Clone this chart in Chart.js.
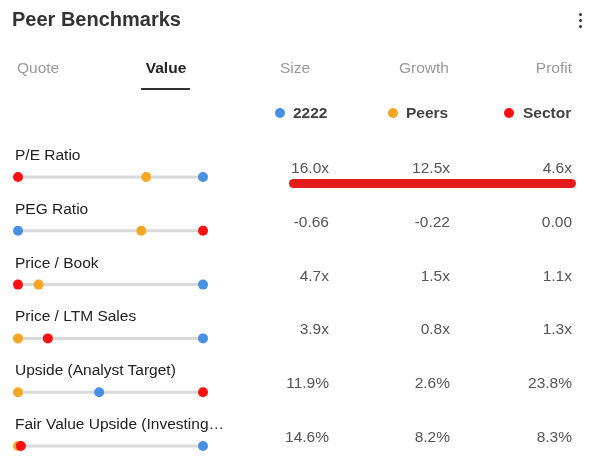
<!DOCTYPE html>
<html>
<head>
<meta charset="utf-8">
<script src="https://cdn.jsdelivr.net/npm/chart.js@4"></script>
<style>
  body { margin: 0; background: #fff; font-family: "Liberation Sans", Arial, sans-serif; }
  #wrap { position: relative; width: 605px; height: 465px; overflow: hidden; }
  #chartBox { position: absolute; left: 0; top: 0; width: 605px; height: 465px; }
  .t { position: absolute; white-space: nowrap; line-height: 18px; }
  .title { left: 12px; top: 8px; font-size: 20px; font-weight: bold; color: #333; line-height: 22px; }
  .tab { top: 59px; font-size: 15.5px; color: #999; }
  .tab.on { color: #222; font-weight: bold; }
  .lbl { left: 15px; font-size: 15.5px; color: #222; }
  .val { font-size: 15.5px; color: #555; text-align: right; width: 80px; }
  .leg { top: 104px; font-size: 15.5px; font-weight: bold; color: #444; }
  .dot { position: absolute; width: 10px; height: 10px; border-radius: 50%; }
  .kebab { position: absolute; left: 579px; width: 3px; height: 3px; border-radius: 50%; background: #333; }
</style>
</head>
<body>
<div id="wrap">
  <div id="chartBox"><canvas id="chart"></canvas></div>
  <div class="t title">Peer Benchmarks</div>
  <div class="kebab" style="top:13px"></div>
  <div class="kebab" style="top:19px"></div>
  <div class="kebab" style="top:25px"></div>
  <div id="tabs"></div>
  <div style="position:absolute;left:141px;top:88px;width:49px;height:2px;background:#333"></div>
  <div id="legend"></div>
  <div style="position:absolute;left:289px;top:179px;width:287px;height:9px;border-radius:5px;background:#e31b1b"></div>
  <div id="rows"></div>
</div>
<script>
const tabs = ['Quote', 'Value', 'Size', 'Growth', 'Profit'];
const activeTab = 'Value';

const metrics = ['P/E Ratio', 'PEG Ratio', 'Price / Book', 'Price / LTM Sales',
                 'Upside (Analyst Target)', 'Fair Value Upside (Investing…'];
const company = [16.0, -0.66, 4.7, 3.9, 11.9, 14.6];
const peers   = [12.5, -0.22, 1.5, 0.8, 2.6, 8.2];
const sector  = [4.6, 0.00, 1.1, 1.3, 23.8, 8.3];
const suffixes = ['x', '', 'x', 'x', '%', '%'];
const decimals = [1, 2, 1, 1, 1, 1];

const seriesNames  = ['2222', 'Peers', 'Sector'];
const seriesColors = ['#4a90e2', '#f5a623', '#ff1010'];
const seriesValues = [company, peers, sector];

// each row has its own range, dots sit between the row min and max
function rowPos(i, v) {
    const vals = seriesValues.map(s => s[i]);
    const lo = Math.min(...vals), hi = Math.max(...vals);
    return hi === lo ? 0.5 : (v - lo) / (hi - lo);
}

// header text
const tabX = [{l: 17}, {c: 166}, {c: 295}, {c: 424}, {r: 572}];
document.getElementById('tabs').innerHTML = tabs.map((t, i) => {
    const p = tabX[i];
    let style = p.l !== undefined ? `left:${p.l}px` :
                p.c !== undefined ? `left:${p.c - 60}px;width:120px;text-align:center` :
                `left:${p.r - 120}px;width:120px;text-align:right`;
    return `<div class="t tab${t === activeTab ? ' on' : ''}" style="${style}">${t}</div>`;
}).join('');

const legDot = [275, 388, 504];
const legTxt = [293, 406, 523];
document.getElementById('legend').innerHTML = seriesNames.map((n, i) =>
    `<div class="dot" style="left:${legDot[i]}px;top:108px;background:${seriesColors[i]}"></div>` +
    `<div class="t leg" style="left:${legTxt[i]}px">${n}</div>`).join('');

const rowTop = 177, rowStep = 53.8;
const valRight = [329, 450, 572];
document.getElementById('rows').innerHTML = metrics.map((m, i) => {
    const y = rowTop + i * rowStep;
    let html = `<div class="t lbl" style="top:${y - 31}px">${m}</div>`;
    seriesValues.forEach((s, k) => {
        html += `<div class="t val" style="left:${valRight[k] - 80}px;top:${y - 18}px">${s[i].toFixed(decimals[i])}${suffixes[i]}</div>`;
    });
    return html;
}).join('');

chartIt();

function chartIt() {
    const ctx = document.getElementById('chart');

    const tracks = metrics.map(m => ({
        type: 'line',
        data: [{x: 0, y: m}, {x: 1, y: m}],
        borderColor: '#d9d9d9',
        borderWidth: 3,
        pointRadius: 0,
        clip: false,
        order: 10
    }));

    const dots = seriesNames.map((name, k) => ({
        type: 'scatter',
        label: name,
        data: metrics.map((m, i) => ({x: rowPos(i, seriesValues[k][i]), y: m})),
        backgroundColor: seriesColors[k],
        borderWidth: 0,
        pointRadius: 5,
        clip: false,
        order: 3 - k
    }));

    new Chart(ctx, {
        type: 'scatter',
        data: { datasets: [...dots, ...tracks] },
        options: {
            responsive: true,
            maintainAspectRatio: false,
            animation: false,
            layout: { padding: { left: 18, right: 402, top: rowTop, bottom: 465 - (rowTop + 5 * rowStep) } },
            scales: {
                x: { type: 'linear', min: 0, max: 1, display: false },
                y: { type: 'category', labels: metrics, offset: false, display: false }
            },
            plugins: { legend: { display: false }, tooltip: { enabled: false } }
        }
    });
}
</script>
</body>
</html>
